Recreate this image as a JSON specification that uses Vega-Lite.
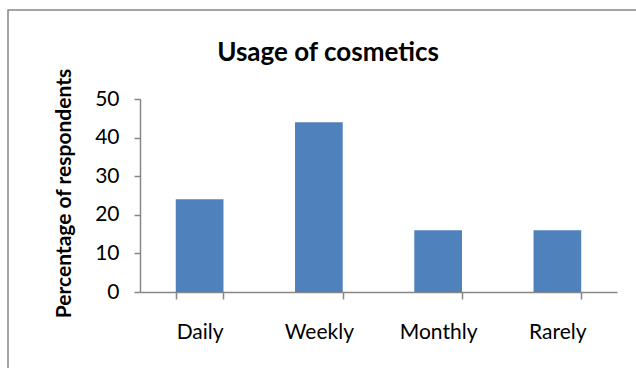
{
  "$schema": "https://vega.github.io/schema/vega-lite/v6.json",
  "autosize": "none",
  "width": 640,
  "height": 370,
  "padding": {"left": 8, "top": 10, "right": 0, "bottom": 0},
  "background": "white",
  "title": {
    "text": "Usage of cosmetics",
    "anchor": "middle",
    "frame": "group",
    "font": "Lato",
    "fontSize": 26,
    "fontWeight": "bold",
    "color": "#000000",
    "baseline": "alphabetic",
    "offset": 0,
    "dy": 77
  },
  "data": {
    "values": [
      {"frequency": "Daily", "percent": 24},
      {"frequency": "Weekly", "percent": 44},
      {"frequency": "Monthly", "percent": 16},
      {"frequency": "Rarely", "percent": 16}
    ]
  },
  "mark": {"type": "bar", "color": "#4F81BD"},
  "encoding": {
    "x": {
      "field": "frequency",
      "type": "nominal",
      "sort": null,
      "scale": {"range": [132, 609], "paddingInner": 0.6, "paddingOuter": 0.3},
      "axis": {
        "title": null,
        "labelAngle": 0,
        "offset": -88,
        "tickBand": "extent",
        "tickSize": 7,
        "labelPadding": 22
      }
    },
    "y": {
      "field": "percent",
      "type": "quantitative",
      "scale": {"domain": [0, 50], "range": [282, 89], "nice": false},
      "axis": {
        "title": "Percentage of respondents",
        "values": [0, 10, 20, 30, 40, 50],
        "offset": -132,
        "grid": false,
        "tickSize": 6,
        "labelPadding": 15,
        "titleX": -76,
        "titleY": 183,
        "titleAngle": -90,
        "titleAlign": "center",
        "titleBaseline": "middle"
      }
    }
  },
  "config": {
    "view": {"stroke": "#878787", "strokeWidth": 1.5},
    "axis": {
      "domainColor": "#878787",
      "tickColor": "#878787",
      "domainWidth": 1.5,
      "tickWidth": 1.5,
      "labelFont": "Lato",
      "labelFontSize": 21,
      "labelColor": "#000000",
      "titleFont": "Lato",
      "titleFontSize": 21,
      "titleFontWeight": "bold",
      "titleColor": "#000000"
    }
  }
}
